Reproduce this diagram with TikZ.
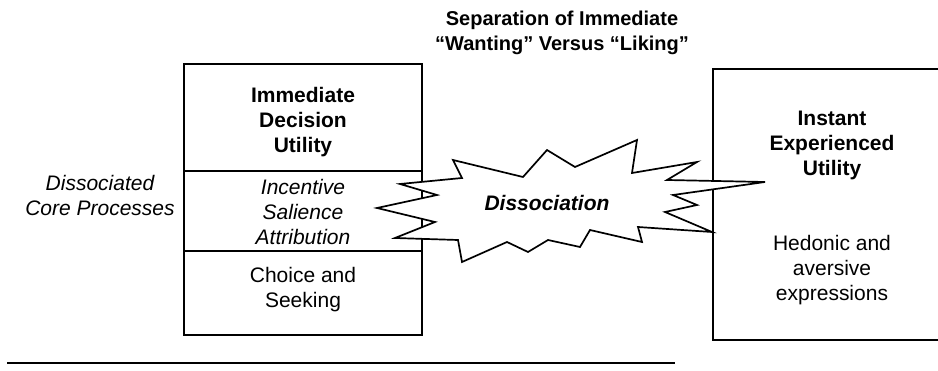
\documentclass[tikz,border=0pt]{standalone}
\usepackage{fontspec}
\setmainfont{Liberation Sans}
\begin{document}
\begin{tikzpicture}[x=1pt,y=-1pt,
  frame/.style={line width=1.7pt},
  txt/.style={align=center,inner sep=0pt,font=\fontsize{21}{25}\selectfont},
  btxt/.style={txt,font=\fontsize{21}{25}\selectfont\bfseries},
  itxt/.style={txt,font=\fontsize{21}{25}\selectfont\itshape},
  burst/.style={line width=1.7pt,line join=miter,fill=white}]
\useasboundingbox (0,0) rectangle (938,371);

% title
\node[btxt,font=\fontsize{20}{25}\selectfont\bfseries] (title) at (562,33)
  {Separation of Immediate\\``Wanting'' Versus ``Liking''};

% left stacked box
\coordinate (lt) at (184,64);
\draw[frame] (184,64) rectangle (422,335);
\draw[frame] (184,171) -- (422,171);
\draw[frame] (184,251) -- (422,251);
\node[btxt] (idu) at (303,122) {Immediate\\Decision\\Utility};
\node[itxt] (isa) at (303,212) {Incentive\\Salience\\Attribution};
\node[txt] (cs) at (303,290) {Choice and\\Seeking};

% side label
\node[itxt] (dcp) at (100,195) {Dissociated\\Core Processes};

% right box, running off the right edge
\coordinate (rt) at (938,69);
\coordinate (rb) at (938,340);
\draw[frame] (rt) -- (713,69) -- (713,340) -- (rb);
\node[btxt] (ieu) at (832,145) {Instant\\Experienced\\Utility};
\node[txt] (hae) at (832,270) {Hedonic and\\aversive\\expressions};

% burst between the boxes
\draw[burst] (400,184) -- (462,178) -- (453,160) -- (523,177) -- (547,150)
  -- (575,167) -- (637,140) -- (632,173) -- (697,162) -- (667,180)
  -- (765,182) -- (673,195) -- (697,205) -- (665,212) -- (712,232)
  -- (638,227) -- (642,242) -- (590,230) -- (580,247) -- (548,240)
  -- (528,252) -- (507,242) -- (462,262) -- (458,240) -- (395,238)
  -- (435,222) -- (377,208) -- (437,195) -- cycle;
\node[txt,font=\fontsize{21}{25}\selectfont\bfseries\itshape] (dis) at (547,203) {Dissociation};

% rule below
\coordinate (r1) at (7,363);
\coordinate (r2) at (675,363);
\draw[line width=1.5pt] (r1) -- (r2);
\end{tikzpicture}
\end{document}
